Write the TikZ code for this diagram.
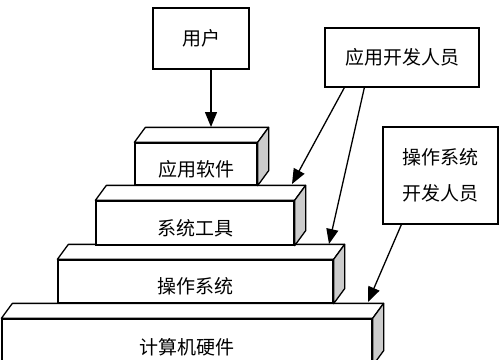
\documentclass[tikz,border=0pt]{standalone}
\usepackage{fontspec}
\newfontfamily\cjk{Noto Sans CJK SC}
\usetikzlibrary{arrows.meta}

\begin{document}
\begin{tikzpicture}[x=1pt,y=-1pt,
  box/.style={draw, line width=1.3pt, inner sep=0pt, align=center,
    font=\cjk\fontsize{19}{36}\selectfont},
  pointer/.style={line width=1.3pt, -{Triangle[length=15pt,width=12pt]}}]

% Canvas 500 x 359, y grows downward like the image
\useasboundingbox (0,0) rectangle (500,359);

% Depth of the stacked blocks (shift of the back edges)
\def\depthx{11} \def\depthy{15}

% --- Block Drawing Function ---
% #1 name, #2 left, #3 top, #4 right, #5 bottom, #6 text
\newcommand{\drawblock}[6]{
  \node[box, fill=white, minimum width={#4-#2}, minimum height={#5-#3}]
    (#1) at ({(#2+#4)/2},{(#3+#5)/2}) {\raisebox{-4pt}[\height][0pt]{#6}};
  % top face
  \draw[line width=1.3pt, fill=white, line join=round]
    (#1.north west) -- ++(\depthx,-\depthy)
    -- ([shift={(\depthx,-\depthy)}]#1.north east) -- (#1.north east) -- cycle;
  % side face
  \draw[line width=1.3pt, fill=gray!40, line join=round]
    (#1.north east) -- ++(\depthx,-\depthy)
    -- ([shift={(\depthx,-\depthy)}]#1.south east) -- (#1.south east) -- cycle;
}

% --- Layers ---
\drawblock{hw}{2}{319}{372}{365}{计算机硬件}
\drawblock{os}{58}{260}{333}{303}{操作系统}
\drawblock{sys}{96}{201}{294}{245}{系统工具}
\drawblock{app}{135}{143}{257}{185}{应用软件}

% --- People ---
\node[box, minimum width=96, minimum height=61] (user) at (201,38.5) {用户};
\node[box, minimum width=154, minimum height=59] (appdev) at (402,57.5) {应用开发人员};
\node[box, minimum width=115, minimum height=97] (osdev) at (440.5,175.5) {操作系统\\开发人员};

% Arrow tips on the layers
\coordinate (appTip) at (211,127);
\coordinate (sysTip) at (292,184);
\coordinate (osTip)  at (329,244);
\coordinate (hwTip)  at (368,302);

\draw[pointer] ([xshift=10]user.south) -- (appTip);
\draw[pointer] ([xshift=20]appdev.south west) -- (sysTip);
\draw[pointer] ([xshift=40]appdev.south west) -- (osTip);
\draw[pointer] ([xshift=19]osdev.south west) -- (hwTip);

\end{tikzpicture}
\end{document}
